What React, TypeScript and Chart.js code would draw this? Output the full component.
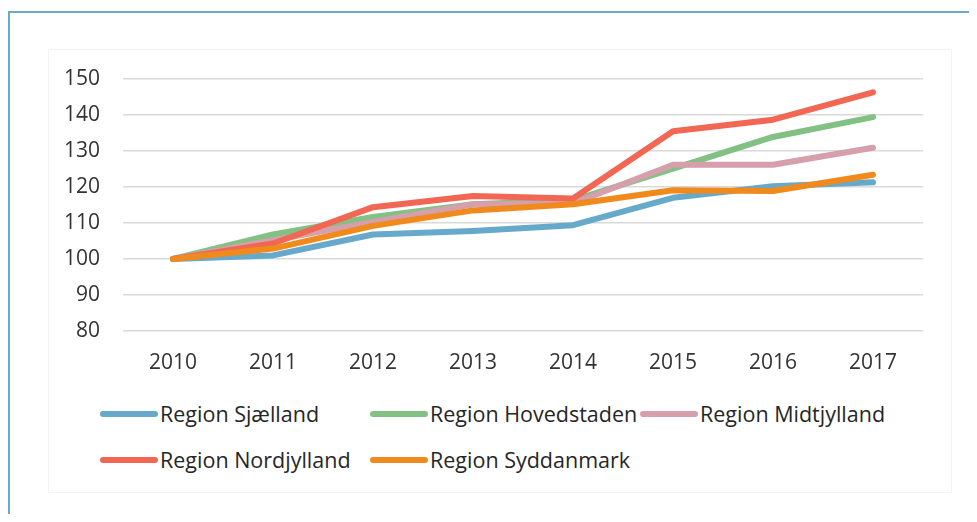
import React, { useEffect, useRef } from "react";
import { Chart, registerables } from "chart.js";

Chart.register(...registerables);

const years = ["2010", "2011", "2012", "2013", "2014", "2015", "2016", "2017"];
const sjaelland = [100, 101.0, 106.8, 107.8, 109.4, 117.0, 120.2, 121.3];
const hovedstaden = [100, 106.8, 111.7, 115.2, 116.3, 125.1, 133.9, 139.4];
const midtjylland = [100, 105.2, 110.3, 115.2, 115.4, 126.2, 126.2, 130.9];
const nordjylland = [100, 104.3, 114.4, 117.5, 116.8, 135.5, 138.7, 146.3];
const syddanmark = [100, 102.9, 109.2, 113.5, 115.2, 119.1, 118.9, 123.4];
const yMin = 80;
const yMax = 150;
const yStep = 10;

const seriesNames = [
  "Region Sjælland",
  "Region Hovedstaden",
  "Region Midtjylland",
  "Region Nordjylland",
  "Region Syddanmark",
];
const seriesData = [sjaelland, hovedstaden, midtjylland, nordjylland, syddanmark];
const seriesColors = ["#67a9ca", "#82c183", "#d59fab", "#f16753", "#f18a1c"];
const drawOrder = [4, 3, 2, 1, 0];

const FONT = "'Open Sans', sans-serif";

export default function App() {
  const canvasRef = useRef<HTMLCanvasElement | null>(null);

  useEffect(() => {
    document.documentElement.style.overflow = "hidden";
    const canvas = canvasRef.current;
    if (!canvas) return;
    const chart = new Chart(canvas, {
      type: "line",
      data: {
        labels: years,
        datasets: seriesNames.map((name, i) => ({
          label: name,
          data: seriesData[i],
          borderColor: seriesColors[i],
          backgroundColor: seriesColors[i],
          borderWidth: 6,
          borderCapStyle: "round" as const,
          borderJoinStyle: "round" as const,
          pointRadius: 0,
          pointHoverRadius: 0,
          tension: 0,
          fill: false,
          order: drawOrder[i],
        })),
      },
      options: {
        animation: false,
        responsive: false,
        devicePixelRatio: 1,
        layout: { padding: { left: 0, right: 29, top: 30, bottom: 0 } },
        plugins: {
          legend: { display: false },
          tooltip: { enabled: false },
        },
        scales: {
          x: {
            offset: true,
            grid: { display: false, drawTicks: false },
            border: { display: false },
            ticks: {
              color: "#333333",
              font: { family: FONT, size: 21 },
              padding: 19,
              maxRotation: 0,
            },
            afterFit: (scale: any) => {
              scale.height = 58;
            },
          },
          y: {
            min: yMin,
            max: yMax,
            grid: {
              color: "#d9d9d9",
              lineWidth: 1.5,
              drawTicks: true,
              tickLength: 23,
              tickColor: "rgba(0,0,0,0)",
            },
            border: { display: false },
            ticks: {
              stepSize: yStep,
              color: "#333333",
              font: { family: FONT, size: 21 },
              padding: 0,
            },
            afterFit: (scale: any) => {
              scale.width = 75;
            },
          },
        },
      },
    });
    return () => chart.destroy();
  }, []);

  const legendCols = [92, 362, 632];
  const legendRows = [406, 452];

  return (
    <div style={{ position: "relative", width: 969, height: 506, fontFamily: FONT }}>
      <div
        style={{
          position: "absolute",
          left: 0,
          top: 3,
          width: 990,
          height: 530,
          borderTop: "2px solid #6aaac9",
          borderLeft: "2px solid #6aaac9",
          boxSizing: "border-box",
        }}
      />
      <div
        style={{
          position: "absolute",
          left: 40,
          top: 41,
          width: 904,
          height: 444,
          border: "1px solid #f3f3f3",
          boxSizing: "border-box",
        }}
      />
      <canvas
        ref={canvasRef}
        width={904}
        height={340}
        style={{ position: "absolute", left: 40, top: 41, width: 904, height: 340 }}
      />
      {seriesNames.map((name, i) => {
        const col = i < 3 ? i : i - 3;
        const row = i < 3 ? 0 : 1;
        return (
          <div
            key={name}
            style={{
              position: "absolute",
              left: legendCols[col],
              top: legendRows[row] - 14,
              height: 28,
              display: "flex",
              alignItems: "center",
              whiteSpace: "nowrap",
            }}
          >
            <div
              style={{
                width: 58,
                height: 5.5,
                borderRadius: 3,
                background: seriesColors[i],
                marginRight: 2,
              }}
            />
            <span style={{ fontSize: 21.5, lineHeight: "28px", color: "#262626" }}>{name}</span>
          </div>
        );
      })}
    </div>
  );
}
